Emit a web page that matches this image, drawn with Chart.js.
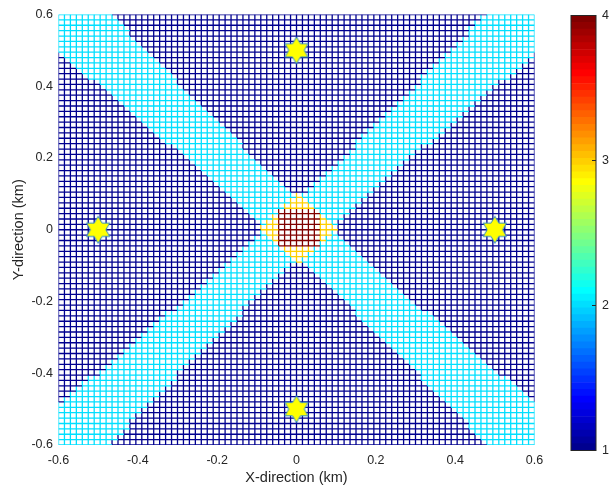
<!DOCTYPE html>
<html>
<head>
<meta charset="utf-8">
<script src="https://cdn.jsdelivr.net/npm/chart.js@4.4.1/dist/chart.umd.min.js"></script>
<style>
  body { margin: 0; background: #fff; }
  #wrap { position: relative; width: 610px; height: 489px; }
  canvas { position: absolute; left: 0; top: 0; }
</style>
</head>
<body>
<div id="wrap">
  <canvas id="mesh" width="610" height="489"></canvas>
  <canvas id="bar" width="610" height="489"></canvas>
</div>
<script>
// mesh node positions (km), same for x and y
const gridX = [
  -0.6, -0.585, -0.57, -0.555, -0.54, -0.525, -0.51, -0.495, -0.48, -0.465,
  -0.45, -0.435, -0.42, -0.405, -0.39, -0.375, -0.36, -0.345, -0.33, -0.315,
  -0.3, -0.285, -0.27, -0.255, -0.24, -0.225, -0.21, -0.195, -0.18, -0.165,
  -0.15, -0.135, -0.12, -0.105, -0.09, -0.075, -0.06, -0.045, -0.03, -0.015,
  0,
  0.015, 0.03, 0.045, 0.06, 0.075, 0.09, 0.105, 0.12, 0.135, 0.15,
  0.165, 0.18, 0.195, 0.21, 0.225, 0.24, 0.255, 0.27, 0.285, 0.3,
  0.315, 0.33, 0.345, 0.36, 0.375, 0.39, 0.405, 0.42, 0.435, 0.45,
  0.465, 0.48, 0.495, 0.51, 0.525, 0.54, 0.555, 0.57, 0.585, 0.6
];

// node values per row, top row (y = 0.6) first, as [value, count] runs from x = -0.6
const meshRows = [
  [[2,9],[1,63],[2,9]],
  [[2,10],[1,61],[2,10]],
  [[2,11],[1,59],[2,11]],
  [[2,12],[1,57],[2,12]],
  [[2,12],[1,57],[2,12]],
  [[2,13],[1,55],[2,13]],
  [[2,14],[1,53],[2,14]],
  [[2,15],[1,51],[2,15]],
  [[1,1],[2,15],[1,49],[2,15],[1,1]],
  [[1,2],[2,15],[1,47],[2,15],[1,2]],
  [[1,3],[2,15],[1,45],[2,15],[1,3]],
  [[1,4],[2,15],[1,43],[2,15],[1,4]],
  [[1,5],[2,15],[1,41],[2,15],[1,5]],
  [[1,7],[2,13],[1,41],[2,13],[1,7]],
  [[1,8],[2,13],[1,39],[2,13],[1,8]],
  [[1,9],[2,13],[1,37],[2,13],[1,9]],
  [[1,10],[2,13],[1,35],[2,13],[1,10]],
  [[1,11],[2,13],[1,33],[2,13],[1,11]],
  [[1,12],[2,13],[1,31],[2,13],[1,12]],
  [[1,13],[2,13],[1,29],[2,13],[1,13]],
  [[1,14],[2,13],[1,27],[2,13],[1,14]],
  [[1,15],[2,13],[1,25],[2,13],[1,15]],
  [[1,16],[2,13],[1,23],[2,13],[1,16]],
  [[1,17],[2,13],[1,21],[2,13],[1,17]],
  [[1,18],[2,13],[1,19],[2,13],[1,18]],
  [[1,20],[2,11],[1,19],[2,11],[1,20]],
  [[1,21],[2,11],[1,17],[2,11],[1,21]],
  [[1,22],[2,11],[1,15],[2,11],[1,22]],
  [[1,23],[2,11],[1,13],[2,11],[1,23]],
  [[1,24],[2,11],[1,11],[2,11],[1,24]],
  [[1,25],[2,11],[1,9],[2,11],[1,25]],
  [[1,26],[2,11],[1,7],[2,11],[1,26]],
  [[1,27],[2,11],[1,5],[2,11],[1,27]],
  [[1,28],[2,11],[1,3],[2,11],[1,28]],
  [[1,29],[2,11],[3,1],[2,11],[1,29]],
  [[1,30],[2,9],[3,3],[2,9],[1,30]],
  [[1,31],[2,7],[3,5],[2,7],[1,31]],
  [[1,32],[2,5],[4,7],[2,5],[1,32]],
  [[1,33],[2,3],[3,1],[4,7],[3,1],[2,3],[1,33]],
  [[1,34],[2,1],[3,2],[4,7],[3,2],[2,1],[1,34]],
  [[1,34],[3,3],[4,7],[3,3],[1,34]],
  [[1,34],[2,1],[3,2],[4,7],[3,2],[2,1],[1,34]],
  [[1,33],[2,3],[3,1],[4,7],[3,1],[2,3],[1,33]],
  [[1,32],[2,5],[4,7],[2,5],[1,32]],
  [[1,31],[2,7],[3,5],[2,7],[1,31]],
  [[1,30],[2,9],[3,3],[2,9],[1,30]],
  [[1,29],[2,11],[3,1],[2,11],[1,29]],
  [[1,28],[2,11],[1,3],[2,11],[1,28]],
  [[1,27],[2,11],[1,5],[2,11],[1,27]],
  [[1,26],[2,11],[1,7],[2,11],[1,26]],
  [[1,25],[2,11],[1,9],[2,11],[1,25]],
  [[1,24],[2,11],[1,11],[2,11],[1,24]],
  [[1,23],[2,11],[1,13],[2,11],[1,23]],
  [[1,22],[2,11],[1,15],[2,11],[1,22]],
  [[1,21],[2,11],[1,17],[2,11],[1,21]],
  [[1,20],[2,11],[1,19],[2,11],[1,20]],
  [[1,18],[2,13],[1,19],[2,13],[1,18]],
  [[1,17],[2,13],[1,21],[2,13],[1,17]],
  [[1,16],[2,13],[1,23],[2,13],[1,16]],
  [[1,15],[2,13],[1,25],[2,13],[1,15]],
  [[1,14],[2,13],[1,27],[2,13],[1,14]],
  [[1,13],[2,13],[1,29],[2,13],[1,13]],
  [[1,12],[2,13],[1,31],[2,13],[1,12]],
  [[1,11],[2,13],[1,33],[2,13],[1,11]],
  [[1,10],[2,13],[1,35],[2,13],[1,10]],
  [[1,9],[2,13],[1,37],[2,13],[1,9]],
  [[1,8],[2,13],[1,39],[2,13],[1,8]],
  [[1,7],[2,13],[1,41],[2,13],[1,7]],
  [[1,5],[2,15],[1,41],[2,15],[1,5]],
  [[1,4],[2,15],[1,43],[2,15],[1,4]],
  [[1,3],[2,15],[1,45],[2,15],[1,3]],
  [[1,2],[2,15],[1,47],[2,15],[1,2]],
  [[1,1],[2,15],[1,49],[2,15],[1,1]],
  [[2,15],[1,51],[2,15]],
  [[2,14],[1,53],[2,14]],
  [[2,13],[1,55],[2,13]],
  [[2,12],[1,57],[2,12]],
  [[2,12],[1,57],[2,12]],
  [[2,11],[1,59],[2,11]],
  [[2,10],[1,61],[2,10]],
  [[2,9],[1,63],[2,9]]
];

// sensor positions (stars)
const sensorX = [0, -0.5, 0.5, 0];
const sensorY = [0.5, 0, 0, -0.5];

const axisTicks = [-0.6, -0.4, -0.2, 0, 0.2, 0.4, 0.6];
const axisTickLabels = ['-0.6', '-0.4', '-0.2', '0', '0.2', '0.4', '0.6'];
const colorTicks = [1, 2, 3, 4];
const colorTickLabels = ['1', '2', '3', '4'];
const colorMin = 1;
const colorMax = 4;

const fontFamily = "'Liberation Sans', Arial, sans-serif";
const textColor = '#262626';

// matlab jet(64), k = 1..64
function jetRGB(k) {
  const u = t => (t < 1 || t > 47) ? 0 : (t <= 16 ? t / 16 : (t <= 31 ? 1 : (48 - t) / 16));
  const r = u(k - 24), g = u(k - 8), b = u(k + 8);
  return 'rgb(' + Math.round(r * 255) + ',' + Math.round(g * 255) + ',' + Math.round(b * 255) + ')';
}
function valueColor(v) {
  const k = Math.min(64, Math.floor((v - colorMin) / (colorMax - colorMin) * 64) + 1);
  return jetRGB(k);
}

// expand the runs
const grid = meshRows.map(runs => {
  const out = [];
  runs.forEach(([v, n]) => { for (let i = 0; i < n; i++) out.push(v); });
  return out;
});

function makeHexagram() {
  const c = document.createElement('canvas');
  c.width = 32; c.height = 32;
  const g = c.getContext('2d');
  const R = 13.5, r = R / Math.sqrt(3);
  g.beginPath();
  for (let k = 0; k < 12; k++) {
    const a = -Math.PI / 2 + k * Math.PI / 6;
    const rad = k % 2 === 0 ? R : r;
    g.lineTo(16 + rad * Math.cos(a), 16 + rad * Math.sin(a));
  }
  g.closePath();
  g.fillStyle = '#ffff00';
  g.fill();
  g.strokeStyle = '#2b8ccc';
  g.lineWidth = 1;
  g.stroke();
  return c;
}

const meshStyle = { showLine: true, pointRadius: 0, pointHoverRadius: 0, borderWidth: 1.3, fill: false, order: 1 };
const datasets = [];
const nRows = grid.length;

// horizontal edges, colored by left node
for (let j = 0; j < nRows; j++) {
  const y = gridX[nRows - 1 - j];
  const vals = grid[j];
  datasets.push(Object.assign({
    data: gridX.map(x => ({ x: x, y: y })),
    segment: { borderColor: ctx => valueColor(vals[ctx.p0DataIndex]) }
  }, meshStyle));
}
// vertical edges, colored by lower node
for (let i = 0; i < gridX.length; i++) {
  const vals = [], pts = [];
  for (let j = nRows - 1; j >= 0; j--) {
    vals.push(grid[j][i]);
    pts.push({ x: gridX[i], y: gridX[nRows - 1 - j] });
  }
  datasets.push(Object.assign({
    data: pts,
    segment: { borderColor: ctx => valueColor(vals[ctx.p0DataIndex]) }
  }, meshStyle));
}
datasets.push({
  data: sensorX.map((x, i) => ({ x: x, y: sensorY[i] })),
  pointStyle: makeHexagram(),
  pointRadius: 13,
  showLine: false,
  order: 0
});

function axisOpts(title, isX) {
  return {
    type: 'linear',
    min: -0.6,
    max: 0.6,
    grid: { display: false, drawTicks: false },
    border: { display: false },
    afterBuildTicks: s => { s.ticks = axisTicks.map(v => ({ value: v })); },
    afterFit: s => { if (isX) s.height = 44; else s.width = 58.5; },
    ticks: {
      autoSkip: false,
      maxRotation: 0,
      padding: isX ? 8.2 : 5.5,
      color: textColor,
      font: { family: fontFamily, size: 12.5 },
      callback: (v, i) => axisTickLabels[i]
    },
    title: {
      display: true,
      text: title,
      color: textColor,
      font: { family: fontFamily, size: 14.5 },
      padding: isX ? { top: 0, bottom: 2.6 } : { top: 10.3, bottom: 0 }
    }
  };
}

new Chart(document.getElementById('mesh'), {
  type: 'scatter',
  data: { datasets: datasets },
  options: {
    responsive: false,
    animation: false,
    events: [],
    layout: { padding: { top: 14.5, right: 75.5, left: 0, bottom: 0 } },
    plugins: { legend: { display: false }, tooltip: { enabled: false } },
    scales: {
      x: axisOpts('X-direction (km)', true),
      y: axisOpts('Y-direction (km)', false)
    }
  }
});

// colorbar
const barDatasets = [];
for (let k = 1; k <= 64; k++) {
  const lo = colorMin + (k - 1) * (colorMax - colorMin) / 64;
  const hi = colorMin + k * (colorMax - colorMin) / 64;
  barDatasets.push({
    data: [[lo, hi]],
    backgroundColor: jetRGB(k),
    borderWidth: 0,
    grouped: false,
    barPercentage: 1,
    categoryPercentage: 1
  });
}

const frame = {
  id: 'frame',
  afterDatasetsDraw(chart) {
    const a = chart.chartArea, c = chart.ctx, ys = chart.scales.y;
    c.save();
    c.strokeStyle = textColor;
    c.lineWidth = 1;
    c.strokeRect(a.left, a.top, a.right - a.left, a.bottom - a.top);
    colorTicks.forEach(v => {
      const py = ys.getPixelForValue(v);
      c.beginPath();
      c.moveTo(a.right - 4, py);
      c.lineTo(a.right, py);
      c.stroke();
    });
    c.restore();
  }
};

new Chart(document.getElementById('bar'), {
  type: 'bar',
  data: { labels: [''], datasets: barDatasets },
  options: {
    responsive: false,
    animation: false,
    events: [],
    layout: { padding: { left: 571, top: 15.5, bottom: 38.5, right: 0 } },
    plugins: { legend: { display: false }, tooltip: { enabled: false } },
    scales: {
      x: { display: false },
      y: {
        position: 'right',
        min: colorMin,
        max: colorMax,
        grid: { display: false, drawTicks: false },
        border: { display: false },
        afterBuildTicks: s => { s.ticks = colorTicks.map(v => ({ value: v })); },
        afterFit: s => { s.width = 14; },
        ticks: {
          padding: 6,
          color: textColor,
          font: { family: fontFamily, size: 12.5 },
          callback: (v, i) => colorTickLabels[i]
        }
      }
    }
  },
  plugins: [frame]
});
</script>
</body>
</html>
